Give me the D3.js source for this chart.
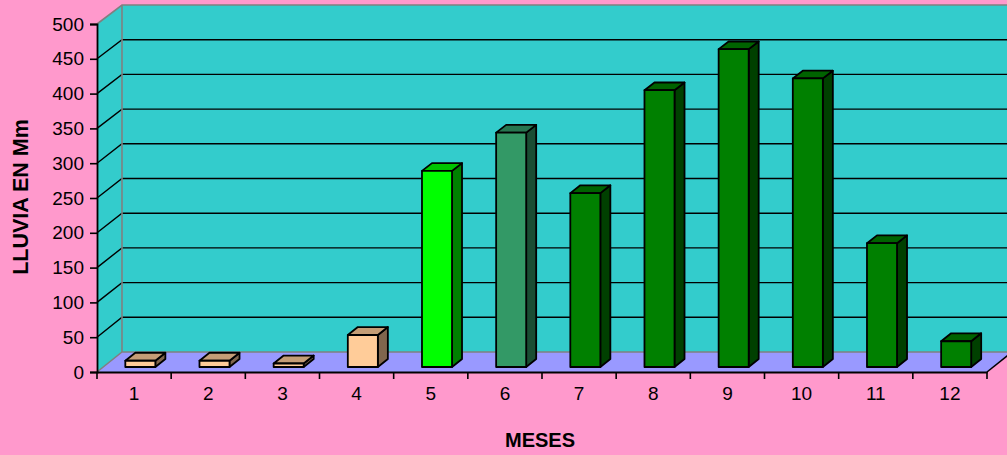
<!DOCTYPE html>
<html>
<head>
<meta charset="utf-8">
<script src="https://cdn.jsdelivr.net/npm/d3@7"></script>
<style>
  html, body { margin: 0; padding: 0; background: #FF99CC; }
  svg { display: block; }
  text { font-family: "Liberation Sans", Arial, sans-serif; fill: #000; }
</style>
</head>
<body>
<svg id="chart" width="1007" height="455"></svg>
<script>
// Monthly rainfall (mm)
const months = ["1", "2", "3", "4", "5", "6", "7", "8", "9", "10", "11", "12"];
const rainfall = [9, 9, 5, 46, 282, 337, 250, 398, 457, 415, 178, 37];
const barColors = ["#FFCC99", "#FFCC99", "#FFCC99", "#FFCC99", "#00FF00", "#339966",
                   "#008000", "#008000", "#008000", "#008000", "#008000", "#008000"];
const yTicks = [0, 50, 100, 150, 200, 250, 300, 350, 400, 450, 500];

const svg = d3.select("#chart");

// Front plane (depth 0) and back wall (depth 1) scales
const x = d3.scaleBand().domain(months).range([97, 987]);
const yFront = d3.scaleLinear().domain([0, 500]).range([372, 24]);
const yBack = d3.scaleLinear().domain([0, 500]).range([352, 5]);
const DX = 25; // horizontal shift from front to back

// project a front-plane x position and value to a given depth (0..1)
function proj(px, v, f) {
  return [px + DX * f, yFront(v) * (1 - f) + yBack(v) * f];
}
const pts = a => a.map(p => p.join(",")).join(" ");
const shade = (c, k) => { const r = d3.rgb(c); return d3.rgb(r.r * k, r.g * k, r.b * k).formatHex(); };

const x0 = x.range()[0], x1 = x.range()[1];
const wallColor = "#33CCCC", floorColor = "#9999FF", edgeGrey = "#808080";

// back wall (extends past the right edge)
svg.append("polygon")
  .attr("points", pts([proj(x0, 0, 1), proj(x0, 500, 1), proj(x1 + 40, 500, 1), proj(x1 + 40, 0, 1)]))
  .attr("fill", wallColor);
// left wall
svg.append("polygon")
  .attr("points", pts([proj(x0, 0, 0), proj(x0, 500, 0), proj(x0, 500, 1), proj(x0, 0, 1)]))
  .attr("fill", wallColor);
// floor
svg.append("polygon")
  .attr("points", pts([proj(x0, 0, 0), proj(x1, 0, 0), proj(x1, 0, 1), proj(x0, 0, 1)]))
  .attr("fill", floorColor);

// gridlines on back wall and left wall
const grid = svg.append("g");
yTicks.filter(v => v > 0 && v < 500).forEach(v => {
  grid.append("polyline")
    .attr("points", pts([proj(x0, v, 0), proj(x0, v, 1), proj(x1 + 40, v, 1)]))
    .attr("fill", "none").attr("stroke", "#000").attr("stroke-width", 1.4);
});

// grey wall edges
const edges = svg.append("g").attr("fill", "none").attr("stroke", edgeGrey).attr("stroke-width", 1.6);
edges.append("polyline").attr("points", pts([proj(x0, 0, 0), proj(x0, 0, 1), proj(x1 + 40, 0, 1)]));
edges.append("polyline").attr("points", pts([proj(x0, 500, 0), proj(x0, 500, 1), proj(x1 + 40, 500, 1)]));
edges.append("line")
  .attr("x1", proj(x0, 0, 1)[0]).attr("y1", proj(x0, 0, 1)[1])
  .attr("x2", proj(x0, 500, 1)[0]).attr("y2", proj(x0, 500, 1)[1]);

// floor right edge
svg.append("line")
  .attr("x1", proj(x1, 0, 0)[0]).attr("y1", proj(x1, 0, 0)[1])
  .attr("x2", proj(x1, 0, 1)[0]).attr("y2", proj(x1, 0, 1)[1])
  .attr("stroke", "#000").attr("stroke-width", 1.6);

// 3D bars
const fA = 0.25, fB = 0.65;
const barW = x.bandwidth() * 0.405;
const bars = svg.append("g").attr("stroke", "#000").attr("stroke-width", 1.8).attr("stroke-linejoin", "round");
months.forEach((m, i) => {
  const v = rainfall[i], c = barColors[i];
  const L = x(m) + (x.bandwidth() - barW) / 2, R = L + barW;
  const g = bars.append("g");
  // side face
  g.append("polygon")
    .attr("points", pts([proj(R, 0, fA), proj(R, v, fA), proj(R, v, fB), proj(R, 0, fB)]))
    .attr("fill", shade(c, 0.5));
  // top face
  g.append("polygon")
    .attr("points", pts([proj(L, v, fA), proj(R, v, fA), proj(R, v, fB), proj(L, v, fB)]))
    .attr("fill", shade(c, 0.77));
  // front face
  g.append("polygon")
    .attr("points", pts([proj(L, 0, fA), proj(R, 0, fA), proj(R, v, fA), proj(L, v, fA)]))
    .attr("fill", c);
});

// value axis
const yAxis = svg.append("g")
  .attr("transform", `translate(${x0},0)`)
  .call(d3.axisLeft(yFront).tickValues(yTicks).tickSize(7).tickPadding(6).tickFormat(d3.format("d")));
yAxis.select(".domain").attr("stroke", "#000").attr("stroke-width", 1.8);
yAxis.selectAll(".tick line").attr("stroke", "#000").attr("stroke-width", 1.6);
yAxis.selectAll(".tick text").attr("font-size", 19).attr("font-family", "Liberation Sans, Arial, sans-serif").attr("fill", "#000");

// category axis
const xAxis = svg.append("g")
  .attr("transform", `translate(0,${yFront(0)})`)
  .call(d3.axisBottom(x).tickSize(0).tickPadding(15));
xAxis.select(".domain").attr("stroke", "#000").attr("stroke-width", 1.8);
xAxis.selectAll(".tick text").attr("font-size", 19).attr("font-family", "Liberation Sans, Arial, sans-serif").attr("fill", "#000");
// category boundary ticks
const bounds = months.map(m => x(m)).concat([x1]);
xAxis.selectAll(".bound").data(bounds).join("line")
  .attr("x1", d => d).attr("x2", d => d).attr("y1", 0).attr("y2", 7)
  .attr("stroke", "#000").attr("stroke-width", 1.6);

// axis titles
svg.append("text")
  .attr("x", 540).attr("y", 447)
  .attr("text-anchor", "middle").attr("font-size", 20).attr("font-weight", "bold")
  .text("MESES");
svg.append("text")
  .attr("transform", "translate(28,197) rotate(-90)")
  .attr("text-anchor", "middle").attr("font-size", 21.5).attr("font-weight", "bold")
  .text("LLUVIA EN Mm");
</script>
</body>
</html>
